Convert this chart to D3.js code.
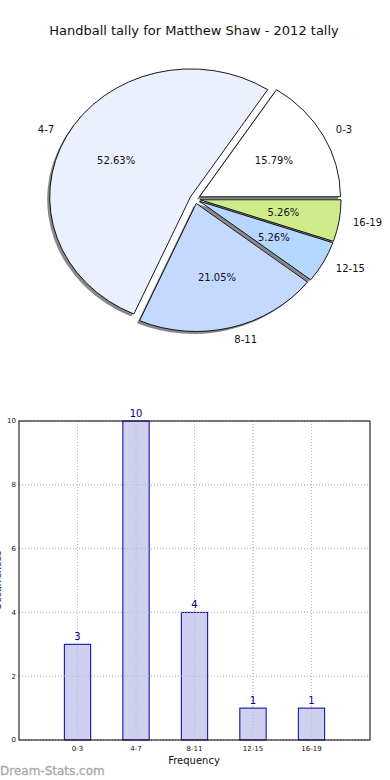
<!DOCTYPE html>
<html><head><meta charset="utf-8">
<script src="https://cdn.jsdelivr.net/npm/d3@7"></script>
<style>body{margin:0;background:#fff}svg{display:block;font-family:"DejaVu Sans",sans-serif}</style>
</head><body><svg id="c" width="390" height="780"></svg>
<script>
const title = "Handball tally for Matthew Shaw - 2012 tally";
const categories = ["0-3","4-7","8-11","12-15","16-19"];
const values = [3,10,4,1,1];
const pieColors = ["#ffffff","#eaf0fe","#c5d8ff","#b6d7ff","#cfec8a"];
const yTicks = [0,2,4,6,8,10];
const xLabel = "Frequency";
const yLabel = "Occurrences";
const watermark = "Dream-Stats.com";

const svg = d3.select("#c");
svg.append("text").attr("x",194).attr("y",35).attr("text-anchor","middle")
  .attr("font-size",13).attr("fill","#111").text(title);

// ---- Pie (matplotlib style: start at 3 o'clock, counterclockwise, exploded, shadow)
const cx = 195, cy = 199, rx = 141, ry = 128, explode = 0.036;
const pie = d3.pie().sort(null).startAngle(Math.PI/2).endAngle(Math.PI/2 - 2*Math.PI);
const arcs = pie(values);
const arc = d3.arc().innerRadius(0).outerRadius(1);
const total = d3.sum(values);
function off(d, k){ const a=(d.startAngle+d.endAngle)/2; return [Math.sin(a)*k, -Math.cos(a)*k]; }
const pg = svg.append("g");
arcs.forEach(d=>{
  const o = off(d, explode);
  pg.append("path").attr("d", arc(d))
    .attr("transform",`translate(${cx+o[0]*rx-2.5},${cy+o[1]*ry+2.5}) scale(${rx},${ry})`)
    .attr("fill","#3a3a3a").attr("opacity",0.6);
});
arcs.forEach((d,i)=>{
  const o = off(d, explode);
  pg.append("path").attr("d", arc(d))
    .attr("transform",`translate(${cx+o[0]*rx},${cy+o[1]*ry}) scale(${rx},${ry})`)
    .attr("fill",pieColors[i]).attr("stroke","#000").attr("stroke-width",0.9)
    .attr("vector-effect","non-scaling-stroke").attr("stroke-linejoin","miter");
});
arcs.forEach((d,i)=>{
  const o = off(d, explode);
  const ox = cx+o[0]*rx, oy = cy+o[1]*ry;
  const u = off(d,1);
  const lx = ox + 1.1*u[0]*rx, ly = oy + 1.1*u[1]*ry;
  pg.append("text").attr("x", lx).attr("y", ly).attr("dy","0.35em")
    .attr("text-anchor", u[0]>0 ? "start":"end").attr("font-size",10).attr("fill","#111")
    .text(categories[i]);
  const px = ox + 0.6*u[0]*rx, py = oy + 0.6*u[1]*ry;
  pg.append("text").attr("x", px).attr("y", py).attr("dy","0.35em")
    .attr("text-anchor","middle").attr("font-size",10).attr("fill","#111")
    .text((values[i]/total*100).toFixed(2)+"%");
});

// ---- Bar chart
const L=19, R=370, T=421, B=740;
const x = d3.scaleLinear().domain([-1,5]).range([L,R]);
const y = d3.scaleLinear().domain([0,10]).range([B,T]);
const bg = svg.append("g");
function drawGrid(op){
  const g = bg.append("g").attr("stroke","#b8b8b8").attr("stroke-width",1).attr("stroke-dasharray","1,2").attr("opacity",op);
  categories.forEach((c,i)=>g.append("line").attr("x1",x(i)).attr("x2",x(i)).attr("y1",T).attr("y2",B));
  yTicks.forEach(t=>g.append("line").attr("x1",L).attr("x2",R).attr("y1",y(t)).attr("y2",y(t)));
}
drawGrid(1);
const bw = 0.45;
values.forEach((v,i)=>{
  bg.append("rect").attr("x",x(i-bw/2)).attr("y",y(v)).attr("width",x(bw)-x(0)).attr("height",y(0)-y(v))
    .attr("fill","#ccccee").attr("fill-opacity",0.95).attr("stroke","#000099").attr("stroke-width",1);
});
drawGrid(0.8);
values.forEach((v,i)=>{
  bg.append("text").attr("x",x(i)).attr("y",y(v)-4).attr("text-anchor","middle")
    .attr("font-size",10).attr("fill","#00008b").text(v);
});
bg.append("rect").attr("x",L).attr("y",T).attr("width",R-L).attr("height",B-T)
  .attr("fill","none").attr("stroke","#000").attr("stroke-width",1);
yTicks.forEach(t=>bg.append("text").attr("x",L-3).attr("y",y(t)).attr("dy","0.35em")
  .attr("text-anchor","end").attr("font-size",7).attr("fill","#111").text(t));
categories.forEach((c,i)=>bg.append("text").attr("x",x(i)).attr("y",B+11)
  .attr("text-anchor","middle").attr("font-size",7).attr("fill","#111").text(c));
bg.append("text").attr("x",194).attr("y",764).attr("text-anchor","middle")
  .attr("font-size",10).attr("fill","#111").text(xLabel);
bg.append("text").attr("transform",`translate(1,${(T+B)/2}) rotate(-90)`).attr("text-anchor","middle")
  .attr("font-size",9.5).attr("fill","#111").text(yLabel);
svg.append("text").attr("x",0).attr("y",775).attr("font-size",12)
  .attr("fill","#a8a8a8").attr("stroke","#a8a8a8").attr("stroke-width",0.3).text(watermark);
</script></body></html>
